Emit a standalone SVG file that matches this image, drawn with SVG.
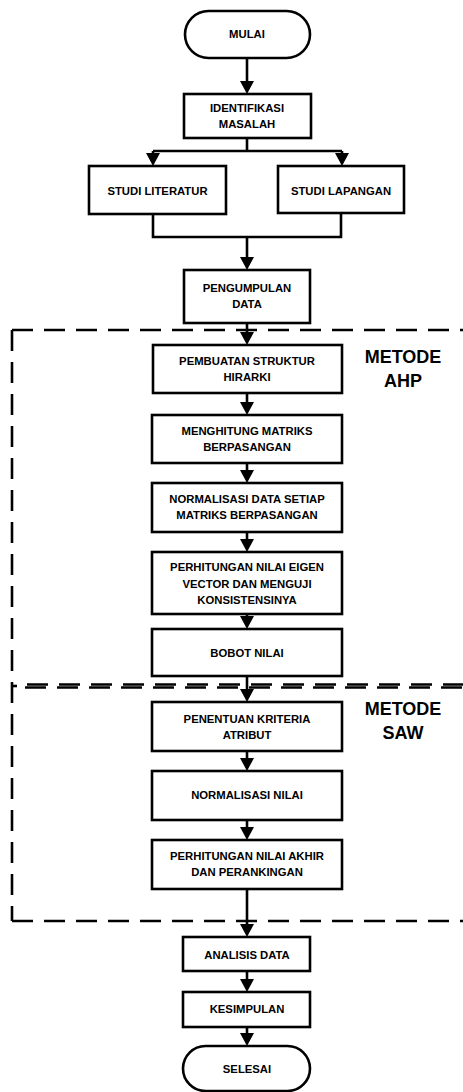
<svg xmlns="http://www.w3.org/2000/svg" width="463" height="1092" viewBox="0 0 463 1092">
  <style>
    .box { fill: #ffffff; stroke: #000000; stroke-width: 2.6; }
    .lbl { font-family: "Liberation Sans", Arial, sans-serif; font-weight: bold; font-size: 11.3px; fill: #000000; text-anchor: middle; }
    .sec { font-family: "Liberation Sans", Arial, sans-serif; font-weight: bold; font-size: 18px; fill: #000000; text-anchor: middle; }
    .wire { fill: none; stroke: #000000; stroke-width: 2.6; }
    .dash { fill: none; stroke: #000000; stroke-width: 2.6; stroke-dasharray: 21 11; }
  </style>
  <defs>
    <marker id="arrow" markerUnits="userSpaceOnUse" markerWidth="14" markerHeight="14" refX="0" refY="7" orient="auto">
      <path d="M0,0 L13,7 L0,14 z" fill="#000000"/>
    </marker>
  </defs>

  <rect width="463" height="1092" fill="#ffffff"/>

  <!-- method regions (dashed) -->
  <g id="regions">
    <path class="dash" d="M12,330 H463"/>
    <path class="dash" d="M12,330 V921"/>
    <path class="dash" d="M27,684.5 H463" stroke-dashoffset="0"/>
    <path class="dash" d="M25,687.5 H463"/>
    <path class="wire" d="M12,686 H17"/>
    <path class="dash" d="M12,921 H463"/>
    <text class="sec" x="403" y="363">METODE</text>
    <text class="sec" x="403" y="387">AHP</text>
    <text class="sec" x="403" y="715">METODE</text>
    <text class="sec" x="403" y="739">SAW</text>
  </g>

  <!-- connectors -->
  <g id="connectors">
    <path class="wire" d="M247,58 V81" marker-end="url(#arrow)"/>
    <path class="wire" d="M247,138 V151 M153,151 H342"/>
    <path class="wire" d="M153,151 V153" marker-end="url(#arrow)"/>
    <path class="wire" d="M342,151 V153" marker-end="url(#arrow)"/>
    <path class="wire" d="M153,214 V237 H341 V213"/>
    <path class="wire" d="M247,237 V257" marker-end="url(#arrow)"/>
    <path class="wire" d="M247,323 V332" marker-end="url(#arrow)"/>
    <path class="wire" d="M247,393 V402" marker-end="url(#arrow)"/>
    <path class="wire" d="M247,463 V470" marker-end="url(#arrow)"/>
    <path class="wire" d="M247,532 V539" marker-end="url(#arrow)"/>
    <path class="wire" d="M247,614 V616" marker-end="url(#arrow)"/>
    <path class="wire" d="M247,676 V689" marker-end="url(#arrow)"/>
    <path class="wire" d="M247,751 V758" marker-end="url(#arrow)"/>
    <path class="wire" d="M247,820 V827" marker-end="url(#arrow)"/>
    <path class="wire" d="M247,889 V924" marker-end="url(#arrow)"/>
    <path class="wire" d="M247,971 V979" marker-end="url(#arrow)"/>
    <path class="wire" d="M247,1027 V1033" marker-end="url(#arrow)"/>
  </g>

  <g id="mulai">
    <rect class="box" x="185" y="11" width="125" height="47" rx="23.5"/>
    <text class="lbl" x="247" y="38">MULAI</text>
  </g>
  <g id="identifikasi">
    <rect class="box" x="184" y="94" width="127" height="44"/>
    <text class="lbl" x="247" y="112">IDENTIFIKASI</text>
    <text class="lbl" x="247" y="128">MASALAH</text>
  </g>
  <g id="studi-literatur">
    <rect class="box" x="89" y="166" width="137" height="48"/>
    <text class="lbl" x="157.5" y="195">STUDI LITERATUR</text>
  </g>
  <g id="studi-lapangan">
    <rect class="box" x="278" y="166" width="126" height="47"/>
    <text class="lbl" x="341" y="195">STUDI LAPANGAN</text>
  </g>
  <g id="pengumpulan">
    <rect class="box" x="184" y="270" width="126" height="53"/>
    <text class="lbl" x="247" y="292">PENGUMPULAN</text>
    <text class="lbl" x="247" y="308">DATA</text>
  </g>
  <g id="struktur-hirarki">
    <rect class="box" x="153" y="345" width="189" height="48"/>
    <text class="lbl" x="247" y="365">PEMBUATAN STRUKTUR</text>
    <text class="lbl" x="247" y="381">HIRARKI</text>
  </g>
  <g id="matriks">
    <rect class="box" x="152" y="415" width="190" height="48"/>
    <text class="lbl" x="247" y="435">MENGHITUNG MATRIKS</text>
    <text class="lbl" x="247" y="451">BERPASANGAN</text>
  </g>
  <g id="normalisasi-data">
    <rect class="box" x="152" y="483" width="190" height="49"/>
    <text class="lbl" x="247" y="503">NORMALISASI DATA SETIAP</text>
    <text class="lbl" x="247" y="519">MATRIKS BERPASANGAN</text>
  </g>
  <g id="eigen">
    <rect class="box" x="152" y="552" width="190" height="62"/>
    <text class="lbl" x="247" y="571">PERHITUNGAN NILAI EIGEN</text>
    <text class="lbl" x="247" y="588">VECTOR DAN MENGUJI</text>
    <text class="lbl" x="247" y="604">KONSISTENSINYA</text>
  </g>
  <g id="bobot">
    <rect class="box" x="152" y="629" width="190" height="47"/>
    <text class="lbl" x="247" y="657">BOBOT NILAI</text>
  </g>
  <g id="kriteria">
    <rect class="box" x="152" y="702" width="190" height="49"/>
    <text class="lbl" x="247" y="723">PENENTUAN KRITERIA</text>
    <text class="lbl" x="247" y="739">ATRIBUT</text>
  </g>
  <g id="normalisasi-nilai">
    <rect class="box" x="152" y="771" width="190" height="49"/>
    <text class="lbl" x="247" y="799">NORMALISASI NILAI</text>
  </g>
  <g id="nilai-akhir">
    <rect class="box" x="152" y="840" width="190" height="49"/>
    <text class="lbl" x="247" y="860">PERHITUNGAN NILAI AKHIR</text>
    <text class="lbl" x="247" y="876">DAN PERANKINGAN</text>
  </g>
  <g id="analisis">
    <rect class="box" x="183" y="937" width="127" height="34"/>
    <text class="lbl" x="247" y="959">ANALISIS DATA</text>
  </g>
  <g id="kesimpulan">
    <rect class="box" x="183" y="992" width="127" height="35"/>
    <text class="lbl" x="247" y="1013">KESIMPULAN</text>
  </g>
  <g id="selesai">
    <rect class="box" x="183" y="1046" width="127" height="45" rx="22.5"/>
    <text class="lbl" x="247" y="1073">SELESAI</text>
  </g>
</svg>
